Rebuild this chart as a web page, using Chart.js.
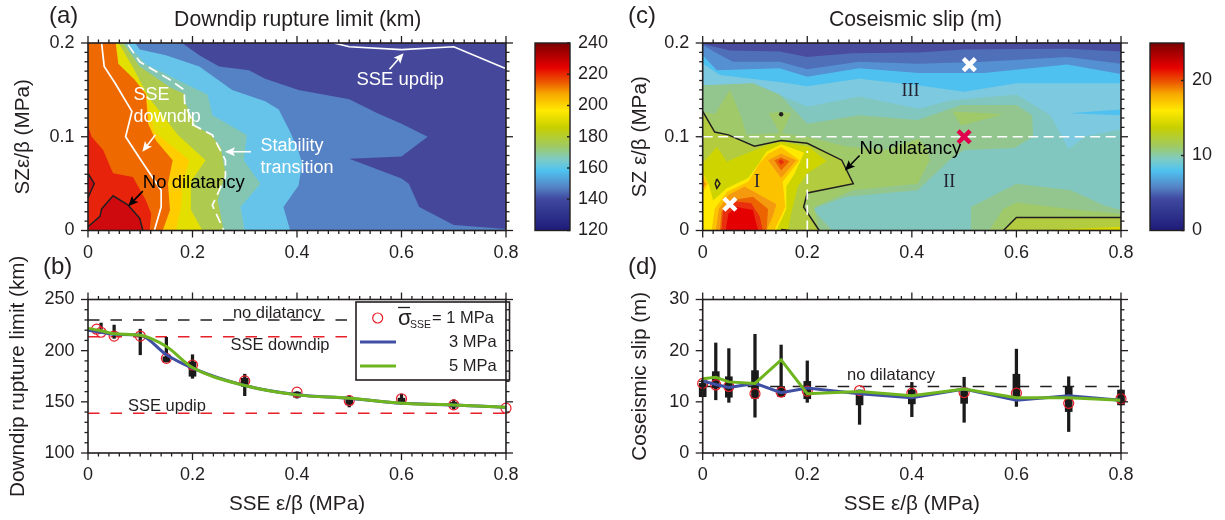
<!DOCTYPE html>
<html>
<head>
<meta charset="utf-8">
<title>Rupture limit and coseismic slip</title>
<script src="https://cdn.jsdelivr.net/npm/chart.js@4/dist/chart.umd.js"></script>
<style>
  html, body { margin: 0; padding: 0; background: #fff; }
  body { position: relative; width: 1225px; height: 520px; overflow: hidden; }
  canvas { position: absolute; }
  .tag { position: absolute; font: 24px "Liberation Sans", Arial, sans-serif; color: #231f20; line-height: 28px; }
</style>
</head>
<body>
<canvas id="panelB" width="530" height="270" style="left:0;top:250px"></canvas>
<canvas id="panelD" width="530" height="270" style="left:615px;top:250px"></canvas>
<canvas id="panelA" width="530" height="262" style="left:0;top:0"></canvas>
<canvas id="panelC" width="530" height="262" style="left:615px;top:0"></canvas>
<canvas id="barA" width="85" height="262" style="left:530px;top:0"></canvas>
<canvas id="barC" width="75" height="262" style="left:1145px;top:0"></canvas>
<div class="tag" style="left:49px;top:1px">(a)</div>
<div class="tag" style="left:43px;top:252px">(b)</div>
<div class="tag" style="left:628px;top:1px">(c)</div>
<div class="tag" style="left:628px;top:252px">(d)</div>
<script>
// ---- panel (a) contour bands, SSE eps/beta vs SZ eps/beta, outermost first
const aBlue = [[0,0],[.8,0],[.8,.0015],[.7,.006],[.634,.025],[.614,.05],[.6,.0555],[.5,.0765],[.6,.079],[.65,.1],[.6,.114],[.554,.125],[.5,.14],[.403,.15],[.339,.162],[.308,.171],[.251,.175],[.213,.187],[.18,.2],[0,.2]];
const aSky = [[0,0],[.387,0],[.374,.025],[.403,.048],[.41,.072],[.403,.084],[.387,.105],[.365,.129],[.339,.138],[.276,.15],[.213,.175],[.149,.187],[.099,.193],[.09,.2],[0,.2]];
const aTeal = [[0,0],[.3,0],[.292,.025],[.33,.05],[.298,.075],[.304,.102],[.238,.123],[.229,.145],[.184,.157],[.153,.166],[.111,.177],[.077,.198],[.075,.2],[0,.2]];
const aGreen = [[0,0],[.26,0],[.248,.032],[.263,.061],[.254,.089],[.235,.102],[.206,.112],[.184,.139],[.184,.146],[.159,.152],[.099,.175],[.07,.198],[.068,.2],[0,.2]];
const aYellow = [[0,0],[.219,0],[.197,.022],[.197,.052],[.225,.075],[.172,.102],[.115,.143],[.089,.171],[.061,.198],[.06,.2],[0,.2]];
const aGold = [[0,0],[.168,0],[.178,.025],[.181,.05],[.194,.075],[.127,.105],[.111,.146],[.058,.178],[.054,.2],[0,.2]];
const aOrange = [[0,0],[.143,0],[.157,.022],[.153,.05],[.162,.075],[.13,.096],[.115,.114],[.111,.145],[.089,.161],[.058,.178],[.053,.2],[0,.2]];
const aRed = [[0,0],[.118,0],[.121,.018],[.111,.032],[.086,.057],[.048,.061],[.029,.086],[.007,.1],[0,.112]];
const aDeep = [[0,.004],[.023,.015],[.026,.023],[.048,.037],[.077,.027],[.099,.013],[.105,0],[0,0]];
const aDeepLeft = [[0,.061],[.012,.05],[0,.035]];
// contour lines on (a)
const aSseDowndip = [[.026,.2],[.031,.175],[.052,.157],[.084,.127],[.072,.1],[.105,.072],[.14,.043],[.14,.025],[.127,0]];
const aStability = [[.077,.198],[.099,.18],[.156,.161],[.184,.15],[.185,.136],[.203,.112],[.238,.102],[.263,.075],[.263,.057],[.238,.027],[.26,0]];
const aSseUpdip = [[.471,.2],[.5,.196],[.6,.193],[.7,.196],[.798,.173]];
const aNoDil = [[0,.004],[.023,.015],[.026,.023],[.048,.037],[.077,.027],[.099,.013],[.105,0]];
const aNoDilLeft = [[0,.061],[.012,.05],[0,.035]];

// ---- panel (c) contour bands
const cLight = [[0,.153],[.096,.157],[.2,.132],[.299,.143],[.413,.13],[.475,.139],[.6,.145],[.665,.123],[.7,.087],[.73,.1],[.8,.108],[.8,.2],[0,.2]];
const cStripe = [[.7,.125],[.8,.129],[.8,.123]];
const cGreen1 = [[0,.155],[.096,.157],[.147,.145],[.2,.114],[.299,.123],[.411,.118],[.494,.134],[.6,.134],[.63,.123],[.632,.1],[.596,.088],[.5,.086],[.472,.075],[.411,.043],[.273,.036],[.21,.023],[.248,0],[0,0]];
const cGreen1Low = [[.513,0],[.513,.025],[.6,.05],[.704,.043],[.767,.027],[.8,.022],[.8,0]];
const cGreen2 = [[0,.127],[.023,.124],[.052,.15],[.074,.121],[.084,.102],[.147,.104],[.2,.1],[.273,.09],[.349,.086],[.413,.098],[.43,.087],[.434,.075],[.411,.05],[.286,.043],[.213,.025],[.223,0],[0,0]];
const cDiamond = [[.126,.125],[.15,.127],[.169,.125],[.15,.102]];
const cPatch = [[.478,.127],[.576,.124],[.494,.112]];
const cGreen2Low = [[.548,0],[.575,.023],[.6,.03],[.7,.023],[.8,.018],[.8,0]];
const cOlive = [[0,.127],[.023,.105],[.049,.102],[.099,.09],[.15,.096],[.2,.093],[.266,.075],[.288,.05],[.2,.04],[.193,.025],[.223,0],[0,0]];
const cOliveLow = [[.575,0],[.6,.014],[.8,.014],[.8,0]];
const cYellowLow = [[.634,0],[.8,.004],[.8,0]];
const cLime = [[0,.072],[.027,.089],[.047,.073],[.052,.075],[.122,.091],[.15,.095],[.204,.089],[.237,.074],[.2,.061],[.182,.047],[.169,.018],[.163,0],[0,0]];
const cYellow = [[0,.062],[.013,.047],[.02,.032],[.046,.045],[.087,.056],[.103,.068],[.122,.084],[.15,.092],[.194,.083],[.175,.06],[.16,.047],[.16,.023],[.141,0],[0,0]];
const cGold = [[.017,0],[.023,.023],[.046,.041],[.087,.052],[.109,.072],[.125,.082],[.15,.089],[.185,.075],[.153,.052],[.158,.025],[.137,0]];
const cGoldLeft = [[0,.06],[.01,.05],[0,.04]];
const cOrangeLeft = [[0,.054],[.006,.05],[0,.045]];
const cAmber = [[.025,0],[.031,.023],[.049,.038],[.08,.047],[.141,.028],[.134,.015],[.122,0]];
const cOrange = [[.033,0],[.036,.02],[.052,.032],[.096,.036],[.125,.023],[.122,0]];
const cScarlet = [[.036,0],[.039,.022],[.065,.031],[.093,.029],[.109,.015],[.115,0]];
const cRed = [[.044,0],[.049,.018],[.065,.025],[.096,.022],[.106,0]];
const cPeak1 = [[.125,.075],[.15,.082],[.179,.075],[.15,.056]];
const cPeak2 = [[.137,.075],[.15,.078],[.166,.074],[.15,.064]];
const cPeak3 = [[.144,.074],[.15,.076],[.156,.073],[.15,.07]];
const cSky = [[0,.178],[.033,.166],[.153,.158],[.2,.154],[.299,.162],[.411,.155],[.5,.148],[.6,.157],[.8,.157],[.8,.2],[0,.2]];
const cMid = [[0,.187],[.027,.171],[.147,.173],[.2,.164],[.299,.173],[.413,.168],[.538,.168],[.697,.177],[.8,.167],[.8,.2],[0,.2]];
const cBlue = [[0,.198],[.027,.189],[.058,.18],[.147,.18],[.2,.172],[.299,.18],[.413,.178],[.538,.18],[.697,.185],[.8,.178],[.8,.2],[0,.2]];
const cDark = [[0,.199],[.052,.192],[.147,.191],[.2,.185],[.286,.189],[.413,.19],[.5,.193],[.697,.194],[.8,.191],[.8,.2],[0,.2]];
// contour lines and markers on (c)
const cNoDil = [[0,.127],[.023,.105],[.049,.102],[.099,.09],[.15,.096],[.2,.093],[.266,.075],[.288,.05],[.2,.04],[.193,.025],[.223,0]];
const cNoDilLoop = [[.027,.055],[.033,.05],[.027,.045],[.024,.05],[.027,.055]];
const cNoDilLow = [[.575,0],[.6,.014],[.8,.014]];
const cNoDilBase = [[.15,.001],[.166,0]];
const cNoDilDot = [[.15,.124]];
const cDashH = [[0,.1],[.8,.1]];
const cDashV = [[.2,0],[.2,.085]];
const cWhiteMarks = [[.052,.028],[.51,.177]];
const cRedMarks = [[.5,.1]];

// ---- panel (b)
const sseEps = [0,.025,.05,.1,.15,.2,.3,.4,.5,.6,.7,.8];
const depthCircleX = [.0165,.025,.05,.1,.15,.2,.3,.4,.5,.6,.7,.8];
const depthCircle = [221,218,214.3,214.3,192.5,186,170.5,159.4,151.3,153,147,143.8];
const depthBlue = [220,218,216,215,196,183,166,157,153.5,148.5,147,144.5];
const depthGreen = [221.8,219.5,216.5,215,204,183.5,166,156.8,153.5,148.7,147,144.8];
const depthThinX = [.025,.05,.1,.15,.2,.3,.4,.5,.6,.7];
const depthThinLow = [217,212,196,189,173,156,153.6,145,148,143];
const depthThinHigh = [227,225,221,213,196,177,160,156,157.5,152];
const depthBoxLow = [null,null,null,189,175,165,154.5,147,148.7,144.8];
const depthBoxHigh = [null,null,null,194,189,173,159.5,152.6,153.6,149.4];
const noDilDepth = 230, sseDowndipDepth = 213.6, sseUpdipDepth = 138.8;

// ---- panel (d)
const slipCircle = [13.6,13.3,13,11.6,11.9,12.1,12.2,11.7,11.8,11.7,9.7,10.6];
const slipBlue = [14.1,13.4,12.8,13.6,11.8,12.7,11.6,10.8,12.5,10.3,11.2,10.3];
const slipGreen = [14.5,14.8,13.9,13.6,18.2,11.6,12,11.2,12.5,10.8,10.8,10.3];
const slipThinLow = [11,10.4,9.9,7,11,9.9,5.6,7.1,6,9.1,4.2,9.4];
const slipThinHigh = [14.3,21.5,20.4,23.2,21.1,18,12.3,13.8,14.8,20.3,14.9,12.3];
const slipBoxLow = [11,12.7,10.9,10.7,11,10.6,9.4,9.6,9.7,10.7,8.1,9.4];
const slipBoxHigh = [13.6,15.9,14.9,16.1,13,14,12.3,12.3,12.7,15.4,12.9,12.3];
const noDilSlip = 13;

// colour scale, fraction from the bottom of the bar
const mapStops = [0,.17,.23,.32,.38,.45,.55,.64,.73,.79,.87,1];
const mapColors = ['#1e1b78','#3f4aa0','#5582c4','#4fc3f0','#7ecbc4','#9fca62','#c8d000','#ffe900','#f7a700','#ec5a00','#e60000','#7a0000'];
const depthBarTicks = [120,240], slipBarTicks = [0,25];

const ink = '#231f20';
const sans = '"Liberation Sans", Arial, sans-serif';
Chart.defaults.font.family = sans;
Chart.defaults.color = ink;

const xy = (arr) => arr.map(([x, y]) => ({ x, y }));
const series = (xs, ys) => xs.map((x, i) => ({ x, y: ys[i] }));
const band = (arr, color) => ({ data: xy(arr), showLine: true, fill: 'shape', backgroundColor: color, borderWidth: 0, pointRadius: 0, tension: 0 });
const path = (arr, color, width, dash) => ({ data: arr, showLine: true, fill: false, borderColor: color, borderWidth: width, borderDash: dash || [], pointRadius: 0, tension: 0, clip: false });
const bars = (xs, lo, hi, w) => ({ type: 'bar', data: xs.map((x, i) => ({ x, y: lo[i] == null ? null : [lo[i], hi[i]] })), backgroundColor: '#1a1a1a', barThickness: w, grouped: false, clip: false });
const rings = (xs, ys) => ({ data: series(xs, ys), showLine: false, pointRadius: 5, pointBorderWidth: 1.2, pointBorderColor: '#e8202a', pointBackgroundColor: 'rgba(0,0,0,0)', clip: false });
const crosses = (arr, color) => ({ data: xy(arr), showLine: false, pointStyle: 'crossRot', pointRadius: 8.5, pointBorderWidth: 4.5, pointBorderColor: color });
const ordered = (sets) => sets.map((d, i) => Object.assign(d, { order: sets.length - i }));

// frame with major and minor ticks on all four sides
function framePlugin(t) {
  return {
    id: 'frame',
    afterDraw(chart) {
      const { ctx, chartArea: a, scales } = chart;
      ctx.save();
      ctx.strokeStyle = ink;
      ctx.lineWidth = 1.6;
      ctx.strokeRect(a.left, a.top, a.right - a.left, a.bottom - a.top);
      ctx.lineWidth = 1.3;
      const mark = (x1, y1, x2, y2) => { ctx.beginPath(); ctx.moveTo(x1, y1); ctx.lineTo(x2, y2); ctx.stroke(); };
      const n = (lo, hi, s) => Math.round((hi - lo) / s);
      let count = n(scales.x.min, scales.x.max, t.xMinor);
      for (let i = 0; i <= count; i++) {
        const v = scales.x.min + i * t.xMinor;
        const px = scales.x.getPixelForValue(v);
        const len = i % Math.round(t.xMajor / t.xMinor) === 0 ? 7 : 3.5;
        mark(px, a.top, px, a.top - len);
        mark(px, a.bottom, px, a.bottom + len);
      }
      count = n(scales.y.min, scales.y.max, t.yMinor);
      for (let i = 0; i <= count; i++) {
        const v = scales.y.min + i * t.yMinor;
        const py = scales.y.getPixelForValue(v);
        const len = i % Math.round(t.yMajor / t.yMinor) === 0 ? 7 : 3.5;
        mark(a.left, py, a.left - len, py);
        mark(a.right, py, a.right + len, py);
      }
      ctx.restore();
    }
  };
}

// labels and arrows placed in data units
function notesPlugin(notes, extra) {
  return {
    id: 'notes',
    afterDatasetsDraw(chart) {
      const { ctx, scales } = chart;
      ctx.save();
      (notes.arrows || []).forEach((n) => {
        const x1 = scales.x.getPixelForValue(n.from[0]), y1 = scales.y.getPixelForValue(n.from[1]);
        const x2 = scales.x.getPixelForValue(n.to[0]), y2 = scales.y.getPixelForValue(n.to[1]);
        const ang = Math.atan2(y2 - y1, x2 - x1);
        ctx.strokeStyle = ctx.fillStyle = n.color;
        ctx.lineWidth = 1.6;
        ctx.beginPath();
        ctx.moveTo(x1, y1);
        ctx.lineTo(x2 - 6 * Math.cos(ang), y2 - 6 * Math.sin(ang));
        ctx.stroke();
        ctx.beginPath();
        ctx.moveTo(x2, y2);
        ctx.lineTo(x2 - 11 * Math.cos(ang - .42), y2 - 11 * Math.sin(ang - .42));
        ctx.lineTo(x2 - 8 * Math.cos(ang), y2 - 8 * Math.sin(ang));
        ctx.lineTo(x2 - 11 * Math.cos(ang + .42), y2 - 11 * Math.sin(ang + .42));
        ctx.closePath();
        ctx.fill();
      });
      ctx.textBaseline = 'middle';
      (notes.texts || []).forEach((n) => {
        ctx.textAlign = n.align || 'left';
        ctx.fillStyle = n.color || ink;
        ctx.font = (n.size || 18) + 'px ' + (n.family || sans);
        ctx.fillText(n.text, scales.x.getPixelForValue(n.x), scales.y.getPixelForValue(n.y));
      });
      ctx.restore();
      if (extra) extra(ctx);
    }
  };
}

function panel(id, plot, cfg) {
  const el = document.getElementById(id);
  const box = el.getBoundingClientRect();
  const [left, top, right, bottom] = [plot.left - box.left, plot.top - box.top, plot.right - box.left, plot.bottom - box.top];
  return new Chart(el, {
    type: 'scatter',
    data: { datasets: ordered(cfg.datasets) },
    plugins: [notesPlugin(cfg.notes || {}, cfg.extra), framePlugin(cfg.ticks)],
    options: {
      responsive: false,
      animation: false,
      events: [],
      devicePixelRatio: 1,
      layout: { padding: { left: 0, right: box.width - right, top: top, bottom: 0 } },
      plugins: {
        legend: { display: false },
        tooltip: { enabled: false },
        title: { display: false }
      },
      scales: {
        x: {
          type: 'linear', min: 0, max: .8, offset: false,
          grid: { display: false, drawTicks: false, offset: false },
          border: { display: false },
          ticks: { stepSize: cfg.ticks.xMajor, padding: 11.5, font: { size: 18 }, color: ink, maxRotation: 0, autoSkip: false },
          title: cfg.xTitle ? { display: true, text: cfg.xTitle, color: ink, font: { size: 20.7 }, padding: { top: 0, bottom: 3 } } : { display: false },
          afterFit(s) { s.height = box.height - bottom; }
        },
        y: {
          type: 'linear', min: cfg.yRange[0], max: cfg.yRange[1],
          grid: { display: false, drawTicks: false },
          border: { display: false },
          ticks: { stepSize: cfg.ticks.yMajor, padding: 13.5, font: { size: 18 }, color: ink, autoSkip: false },
          title: { display: true, text: cfg.yTitle, color: ink, font: { size: 20.7 }, padding: { top: cfg.yTitlePad, bottom: 0 } },
          afterFit(s) { s.width = left; }
        }
      }
    }
  });
}

function colorBar(id, plot, ends, step) {
  const el = document.getElementById(id);
  const box = el.getBoundingClientRect();
  return new Chart(el, {
    type: 'bar',
    data: {
      labels: [''],
      datasets: [{
        data: [[ends[0], ends[1]]],
        barPercentage: 1, categoryPercentage: 1,
        backgroundColor(c) {
          const a = c.chart.chartArea;
          if (!a) return mapColors[0];
          const g = c.chart.ctx.createLinearGradient(0, a.bottom, 0, a.top);
          mapStops.forEach((s, i) => g.addColorStop(s, mapColors[i]));
          return g;
        }
      }]
    },
    plugins: [{
      id: 'barFrame',
      afterDraw(chart) {
        const { ctx, chartArea: a, scales } = chart;
        ctx.save();
        ctx.strokeStyle = ink;
        ctx.lineWidth = 1.4;
        ctx.strokeRect(a.left, a.top, a.right - a.left, a.bottom - a.top);
        scales.y.ticks.forEach((t) => {
          const py = scales.y.getPixelForValue(t.value);
          ctx.beginPath();
          ctx.moveTo(a.right - 3, py);
          ctx.lineTo(a.right, py);
          ctx.stroke();
        });
        ctx.restore();
      }
    }],
    options: {
      responsive: false, animation: false, events: [], devicePixelRatio: 1,
      layout: { padding: { left: plot.left - box.left, right: 0, top: plot.top - box.top, bottom: box.height - (plot.bottom - box.top) } },
      plugins: { legend: { display: false }, tooltip: { enabled: false } },
      scales: {
        x: { display: false },
        y: {
          position: 'right', min: ends[0], max: ends[1],
          grid: { display: false, drawTicks: false }, border: { display: false },
          ticks: { stepSize: step, padding: 8, includeBounds: false, font: { size: 18 }, color: ink },
          afterFit(s) { s.width = box.width - (plot.right - box.left); }
        }
      }
    }
  });
}

const frameTop = { top: 43, bottom: 230.5 };
const frameLow = { top: 299.5, bottom: 453 };
const leftCol = { left: 88, right: 509.5 };
const rightCol = { left: 702.7, right: 1124 };
const scatterDash = [11.5, 11];

panel('panelA', { ...leftCol, ...frameTop }, {
  yTitle: 'SZε/β (MPa)', yTitlePad: 10.5, yRange: [0, .2],
  ticks: { xMajor: .2, xMinor: .02, yMajor: .1, yMinor: .01 },
  datasets: [
    band([[0,0],[.8,0],[.8,.2],[0,.2]], '#45489a'),
    band(aBlue, '#5582c4'), band(aSky, '#66c4ea'), band(aTeal, '#85c6b3'), band(aGreen, '#aecb4f'),
    band(aYellow, '#e3df00'), band(aGold, '#ffcd00'), band(aOrange, '#ee6a00'), band(aRed, '#e8230c'),
    band(aDeep, '#cf0a0f'), band(aDeepLeft, '#cf0a0f'),
    path(xy(aSseDowndip), '#fff', 1.7), path(xy(aStability), '#fff', 1.7, [10, 5.5]), path(xy(aSseUpdip), '#fff', 1.7),
    path(xy(aNoDil), ink, 1.5), path(xy(aNoDilLeft), ink, 1.5)
  ],
  notes: {
    arrows: [
      { from: [.129,.102], to: [.104,.084], color: '#fff' },
      { from: [.105,.042], to: [.077,.026], color: '#000' },
      { from: [.312,.084], to: [.262,.084], color: '#fff' },
      { from: [.577,.172], to: [.604,.189], color: '#fff' }
    ],
    texts: [
      { text: 'Downdip rupture limit (km)', x: .4014, y: .2245, size: 21.2, align: 'center' },
      { text: 'SSE', x: .0873, y: .1445, color: '#fff' },
      { text: 'downdip', x: .0873, y: .121, color: '#fff' },
      { text: 'Stability', x: .33, y: .0905, color: '#fff' },
      { text: 'transition', x: .33, y: .0664, color: '#fff' },
      { text: 'SSE updip', x: .5137, y: .1605, color: '#fff', size: 18.5 },
      { text: 'No dilatancy', x: .105, y: .0506, color: '#000', size: 18.5 }
    ]
  }
});

panel('panelC', { ...rightCol, ...frameTop }, {
  yTitle: 'SZ ε/β (MPa)', yTitlePad: 12.7, yRange: [0, .2],
  ticks: { xMajor: .2, xMinor: .02, yMajor: .1, yMinor: .01 },
  datasets: [
    band([[0,0],[.8,0],[.8,.2],[0,.2]], '#82c7bf'),
    band(cLight, '#7cc9e0'), band(cStripe, '#4fc1f0'), band(cGreen1, '#92c68e'), band(cGreen1Low, '#92c68e'),
    band(cGreen2, '#a0c96a'), band(cDiamond, '#a0c96a'), band(cPatch, '#a0c96a'), band(cGreen2Low, '#a0c96a'),
    band(cOlive, '#b3cc3f'), band(cOliveLow, '#b3cc3f'), band(cYellowLow, '#d6d800'),
    band(cLime, '#cdd400'), band(cYellow, '#ffe900'), band(cGoldLeft, '#fcc200'), band(cGold, '#fcc200'),
    band(cOrangeLeft, '#f08a10'), band(cAmber, '#f59a0e'), band(cOrange, '#ec6400'), band(cScarlet, '#e8300f'), band(cRed, '#e40000'),
    band(cPeak1, '#f59a0e'), band(cPeak2, '#ec6400'), band(cPeak3, '#e8300f'),
    band(cSky, '#4fc1f0'), band(cMid, '#5590d2'), band(cBlue, '#4f70b8'), band(cDark, '#4a4d9f'),
    path(xy(cNoDil), ink, 1.5), path(xy(cNoDilLoop), ink, 1.5), path(xy(cNoDilLow), ink, 1.5), path(xy(cNoDilBase), ink, 1.5),
    { data: xy(cNoDilDot), showLine: false, pointRadius: 2.2, pointBackgroundColor: ink, pointBorderWidth: 0 },
    path(xy(cDashH), '#fff', 1.7, [10, 5.5]), path(xy(cDashV), '#fff', 1.7, [10, 5.5]),
    crosses(cWhiteMarks, '#fff'), crosses(cRedMarks, '#e0004d')
  ],
  notes: {
    arrows: [{ from: [.3,.08], to: [.272,.064], color: '#000' }],
    texts: [
      { text: 'Coseismic slip (m)', x: .407, y: .2245, size: 21.2, align: 'center' },
      { text: 'No dilatancy', x: .3, y: .0875, color: '#000', size: 18.5 },
      { text: 'I', x: .098, y: .051, color: '#223', size: 18, family: '"Liberation Serif", serif' },
      { text: 'II', x: .46, y: .051, color: '#223', size: 18, family: '"Liberation Serif", serif' },
      { text: 'III', x: .38, y: .148, color: '#223', size: 18, family: '"Liberation Serif", serif' }
    ]
  }
});

// legend of panel (b), canvas pixels
function depthLegend(ctx) {
  ctx.save();
  ctx.fillStyle = '#fff';
  ctx.strokeStyle = ink;
  ctx.lineWidth = 1.6;
  ctx.fillRect(356, 52, 153.5, 78);
  ctx.strokeRect(356, 52, 153.5, 78);
  ctx.strokeStyle = '#e8202a';
  ctx.lineWidth = 1.2;
  ctx.beginPath(); ctx.arc(377.7, 68, 5, 0, Math.PI * 2); ctx.stroke();
  ctx.strokeStyle = '#3f4fa3'; ctx.lineWidth = 3;
  ctx.beginPath(); ctx.moveTo(360, 92); ctx.lineTo(396, 92); ctx.stroke();
  ctx.strokeStyle = '#6fb51f';
  ctx.beginPath(); ctx.moveTo(360, 116); ctx.lineTo(396, 116); ctx.stroke();
  ctx.fillStyle = ink;
  ctx.textBaseline = 'middle';
  ctx.font = '22px ' + sans;
  ctx.fillText('σ', 398, 69);
  ctx.strokeStyle = ink; ctx.lineWidth = 1.3;
  ctx.beginPath(); ctx.moveTo(398, 57.5); ctx.lineTo(410, 57.5); ctx.stroke();
  ctx.font = '10.5px ' + sans;
  ctx.fillText('SSE', 410, 75);
  ctx.font = '16.5px ' + sans;
  ctx.fillText('= 1 MPa', 432, 68);
  ctx.fillText('3 MPa', 449, 92);
  ctx.fillText('5 MPa', 449, 116);
  ctx.restore();
}

panel('panelB', { ...leftCol, ...frameLow }, {
  xTitle: 'SSE ε/β (MPa)',
  yTitle: 'Downdip rupture limit (km)', yTitlePad: 6, yRange: [100, 250],
  ticks: { xMajor: .2, xMinor: .02, yMajor: 50, yMinor: 10 },
  extra: depthLegend,
  datasets: [
    path(xy([[0,noDilDepth],[.8,noDilDepth]]), ink, 1.4, scatterDash),
    path(xy([[0,sseDowndipDepth],[.8,sseDowndipDepth]]), '#e8202a', 1.4, scatterDash),
    path(xy([[0,sseUpdipDepth],[.8,sseUpdipDepth]]), '#e8202a', 1.4, scatterDash),
    bars(depthThinX, depthThinLow, depthThinHigh, 2.6),
    bars(depthThinX, depthBoxLow, depthBoxHigh, 7),
    rings(depthCircleX, depthCircle),
    Object.assign(path(series(sseEps, depthBlue), '#3f4fa3', 3), { cubicInterpolationMode: 'monotone' }),
    Object.assign(path(series(sseEps, depthGreen), '#6fb51f', 3), { cubicInterpolationMode: 'monotone' })
  ],
  notes: {
    texts: [
      { text: 'no dilatancy', x: .2774, y: 236.5, size: 16.5 },
      { text: 'SSE downdip', x: .2726, y: 205, size: 16.5 },
      { text: 'SSE updip', x: .0765, y: 145.5, size: 16.5 }
    ]
  }
});

panel('panelD', { ...rightCol, ...frameLow }, {
  xTitle: 'SSE ε/β (MPa)',
  yTitle: 'Coseismic slip (m)', yTitlePad: 12.7, yRange: [0, 30],
  ticks: { xMajor: .2, xMinor: .02, yMajor: 10, yMinor: 2 },
  datasets: [
    path(xy([[0,noDilSlip],[.8,noDilSlip]]), ink, 1.4, scatterDash),
    bars(sseEps, slipThinLow, slipThinHigh, 2.6),
    bars(sseEps, slipBoxLow, slipBoxHigh, 7),
    rings(sseEps, slipCircle),
    path(series(sseEps, slipBlue), '#3f4fa3', 3),
    path(series(sseEps, slipGreen), '#6fb51f', 3)
  ],
  notes: { texts: [{ text: 'no dilatancy', x: .276, y: 15.2, size: 16.5 }] }
});

colorBar('barA', { left: 535, right: 570, ...frameTop }, depthBarTicks, 20);
colorBar('barC', { left: 1150, right: 1184, ...frameTop }, slipBarTicks, 10);
</script>
</body>
</html>
